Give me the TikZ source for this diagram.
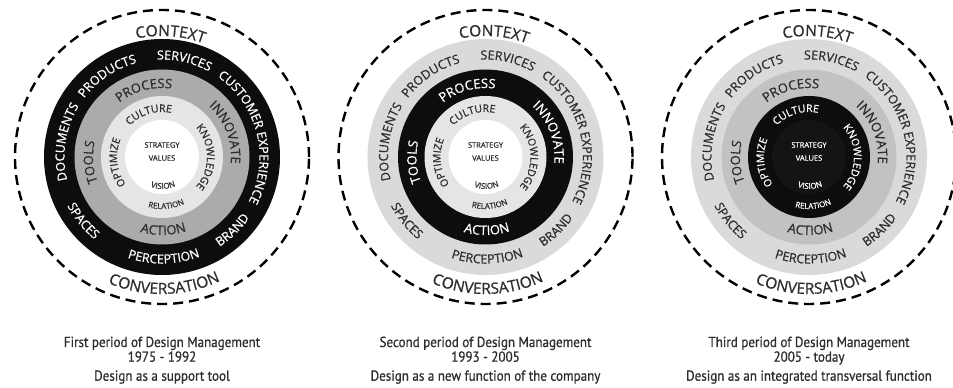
\documentclass[tikz,border=0pt]{standalone}
\usepackage{fontspec}
\newfontfamily\ringfont[FakeBold=0.8]{Open Sans}
\newfontfamily\capfont[FakeStretch=0.9,FakeBold=0.8]{PT Sans}
\usetikzlibrary{decorations.text}
\definecolor{ink}{HTML}{2E2E2E}
\definecolor{darkband}{HTML}{0D0D0D}
\definecolor{coreblack}{HTML}{141414}
\definecolor{midband}{HTML}{ABABAB}
\definecolor{softband}{HTML}{C2C2C2}
\definecolor{paleband}{HTML}{DADADA}
\definecolor{lightband}{HTML}{E5E5E5}
\newcommand{\rf}[2]{\ringfont\fontsize{#1}{#1}\selectfont\color{#2}}
\newcommand{\cwtext}[4]{\path[decorate,decoration={text along path,text align=center,text={|#3|#4}}] (#1+85:#2) arc[start angle=#1+85,end angle=#1-85,radius=#2];}
\newcommand{\ccwtext}[4]{\path[decorate,decoration={text along path,text align=center,text={|#3|#4}}] (#1-85:#2) arc[start angle=#1-85,end angle=#1+85,radius=#2];}
\tikzset{
  ringdash/.style={line width=2.4pt,dash pattern=on 10pt off 6pt},
  coretext/.style={font=\ringfont\fontsize{7.5}{8}\selectfont,inner sep=0pt},
  captext/.style={font=\capfont\fontsize{14.5}{15}\selectfont,text=ink,anchor=base,inner sep=0pt}
}
\begin{document}
\begin{tikzpicture}[x=1pt,y=1pt]
\useasboundingbox (0,0) rectangle (953,388);
\foreach \cx/\n/\fa/\fb/\fc/\fd/\ta/\tb/\tc/\td/\period/\years/\role in {
  162/1/darkband/midband/lightband/white/white/ink/ink/ink/First/1975 - 1992/Design as a support tool,
  485.5/2/paleband/darkband/lightband/white/ink/white/ink/ink/Second/1993 - 2005/Design as a new function of the company,
  809/3/paleband/softband/darkband/coreblack/ink/ink/white/white/Third/2005 - today/Design as an integrated transversal function}{
\begin{scope}[shift={(\cx,231)}]
  \draw[ringdash] (0,0) circle (147);
  \fill[\fa] (0,0) circle (118);
  \fill[\fb] (0,0) circle (87.5);
  \fill[\fc] (0,0) circle (61);
  \fill[\fd] (0,0) circle (37);
  \cwtext{86}{121}{\rf{15.5}{ink}}{CONTEXT}
  \ccwtext{271}{137}{\rf{15.5}{ink}}{CONVERSATION}
  \cwtext{124}{97.5}{\rf{12.5}{\ta}}{PRODUCTS}
  \cwtext{77}{97.5}{\rf{12.5}{\ta}}{SERVICES}
  \cwtext{14}{97.5}{\rf{12.5}{\ta}}{CUSTOMER EXPERIENCE}
  \cwtext{171}{97.5}{\rf{12.5}{\ta}}{DOCUMENTS}
  \ccwtext{219}{106.5}{\rf{12.5}{\ta}}{SPACES}
  \ccwtext{271}{106.5}{\rf{12.5}{\ta}}{PERCEPTION}
  \ccwtext{314}{106.5}{\rf{12.5}{\ta}}{BRAND}
  \cwtext{105}{69}{\rf{13}{\tb}}{PROCESS}
  \cwtext{21}{69}{\rf{13}{\tb}}{INNOVATE}
  \cwtext{184}{69}{\rf{13}{\tb}}{TOOLS}
  \ccwtext{271}{78}{\rf{13}{\tb}}{ACTION}
  \cwtext{107}{45}{\rf{10.5}{\tc}}{CULTURE}
  \cwtext{0}{45}{\rf{10.5}{\tc}}{KNOWLEDGE}
  \cwtext{187}{45}{\rf{10.5}{\tc}}{OPTIMIZE}
  \ccwtext{275}{52}{\rf{8}{\tc}}{RELATION}
  \ccwtext{272}{32}{\rf{8}{\td}}{VISION}
  \node[coretext,text=\td] (strategy\n) at (0,12) {STRATEGY};
  \node[coretext,text=\td] (values\n) at (0,-1) {VALUES};
  \node[captext] (period\n) at (0,-190) {\period{} period of Design Management};
  \node[captext] (years\n) at (0,-204.7) {\years};
  \node[captext] (role\n) at (0,-223.7) {\role};
\end{scope}
}
\end{tikzpicture}
\end{document}
